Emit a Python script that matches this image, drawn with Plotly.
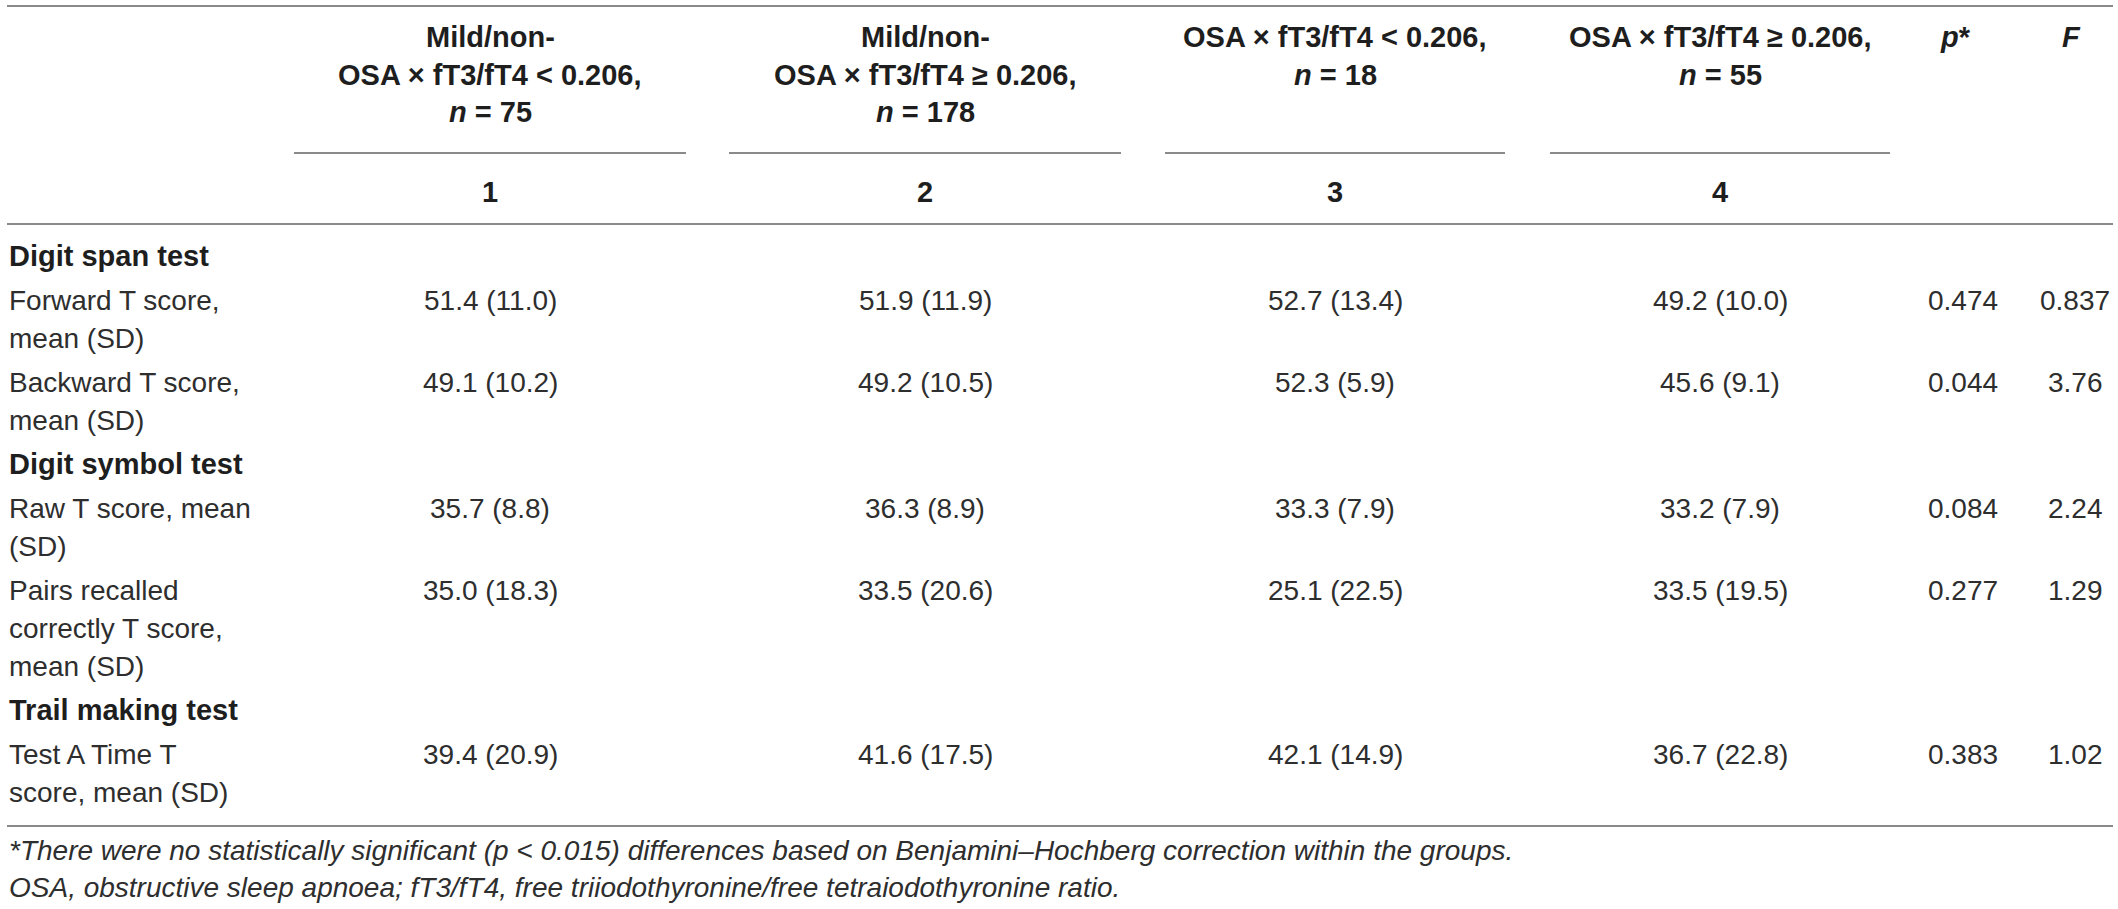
import plotly.graph_objects as go

# header text for the four groups
group_heads = [
    ["Mild/non-", "OSA × fT3/fT4 < 0.206,", "<i>n</i> = 75"],
    ["Mild/non-", "OSA × fT3/fT4 ≥ 0.206,", "<i>n</i> = 178"],
    ["OSA × fT3/fT4 < 0.206,", "<i>n</i> = 18"],
    ["OSA × fT3/fT4 ≥ 0.206,", "<i>n</i> = 55"],
]
group_ids = ["1", "2", "3", "4"]

sections = ["Digit span test", "Digit symbol test", "Trail making test"]
row_section = [0, 0, 1, 1, 2]
row_labels = [
    ["Forward T score,", "mean (SD)"],
    ["Backward T score,", "mean (SD)"],
    ["Raw T score, mean", "(SD)"],
    ["Pairs recalled", "correctly T score,", "mean (SD)"],
    ["Test A Time T", "score, mean (SD)"],
]

g1_mean = [51.4, 49.1, 35.7, 35.0, 39.4]
g1_sd = [11.0, 10.2, 8.8, 18.3, 20.9]
g2_mean = [51.9, 49.2, 36.3, 33.5, 41.6]
g2_sd = [11.9, 10.5, 8.9, 20.6, 17.5]
g3_mean = [52.7, 52.3, 33.3, 25.1, 42.1]
g3_sd = [13.4, 5.9, 7.9, 22.5, 14.9]
g4_mean = [49.2, 45.6, 33.2, 33.5, 36.7]
g4_sd = [10.0, 9.1, 7.9, 19.5, 22.8]
p_values = [0.474, 0.044, 0.084, 0.277, 0.383]
f_values = [0.837, 3.76, 2.24, 1.29, 1.02]

footnotes = [
    "*There were no statistically significant (p < 0.015) differences based on Benjamini–Hochberg correction within the groups.",
    "OSA, obstructive sleep apnoea; fT3/fT4, free triiodothyronine/free tetraiodothyronine ratio.",
]

W, H = 2118, 909
FONT = "Liberation Sans, Arial, Helvetica, sans-serif"
TXT = "#2e2e2e"
LINE = "#8a8a8a"

col_x = [490, 925, 1335, 1720]
half_w = [196, 196, 170, 170]
p_x, f_x = 1963, 2075
label_x = 7

fig = go.Figure()
anns = []
shapes = []


def txt(x, y, s, anchor="center", bold=False, italic=False, size=28):
    if bold:
        s = "<b>" + s + "</b>"
    if italic:
        s = "<i>" + s + "</i>"
    anns.append(dict(x=x, y=y, xref="x", yref="y", text=s, showarrow=False,
                     xanchor=anchor, yanchor="middle",
                     font=dict(family=FONT, size=size, color="#1e1e1e" if bold else TXT)))


def hline(x0, x1, y):
    shapes.append(dict(type="line", xref="x", yref="y", x0=x0, x1=x1, y0=y, y1=y,
                       line=dict(color=LINE, width=2)))


# header
hline(label_x, W - 5, 6)
for i, lines in enumerate(group_heads):
    for k, s in enumerate(lines):
        txt(col_x[i], 37 + 37.5 * k, s, bold=True, size=29)
    hline(col_x[i] - half_w[i], col_x[i] + half_w[i], 153)
    txt(col_x[i], 192, group_ids[i], bold=True, size=29)
txt(p_x - 8, 37, "<i>p</i>*", bold=True, size=29)
txt(f_x - 4, 37, "<i>F</i>", bold=True, size=29)
hline(label_x, W - 5, 224)

# body
means = [g1_mean, g2_mean, g3_mean, g4_mean]
sds = [g1_sd, g2_sd, g3_sd, g4_sd]
y = 212
cur = None
for r, lines in enumerate(row_labels):
    if row_section[r] != cur:
        cur = row_section[r]
        y += 44
        txt(label_x, y, sections[cur], anchor="left", bold=True, size=29)
    y += 44
    for k, s in enumerate(lines):
        txt(label_x, y + 38 * k, s, anchor="left")
    for g in range(4):
        txt(col_x[g], y, f"{means[g][r]:.1f} ({sds[g][r]:.1f})")
    txt(p_x, y, f"{p_values[r]:.3f}")
    txt(f_x, y, f"{f_values[r]:.3g}")
    y += 38 * (len(lines) - 1)

hline(label_x, W - 5, 826)
for k, s in enumerate(footnotes):
    txt(label_x, 850 + 37 * k, s, anchor="left", italic=True)

fig.update_layout(
    width=W, height=H, autosize=False,
    margin=dict(l=0, r=0, t=0, b=0),
    paper_bgcolor="white", plot_bgcolor="white",
    xaxis=dict(range=[0, W], visible=False, fixedrange=True),
    yaxis=dict(range=[H, 0], visible=False, fixedrange=True),
    annotations=anns, shapes=shapes, showlegend=False,
)
# page margin would push the fixed-size figure past the window edge
fig.write_html("out.html", config={"displayModeBar": False},
               post_script="document.body.style.margin='0';document.body.style.overflow='hidden';")
